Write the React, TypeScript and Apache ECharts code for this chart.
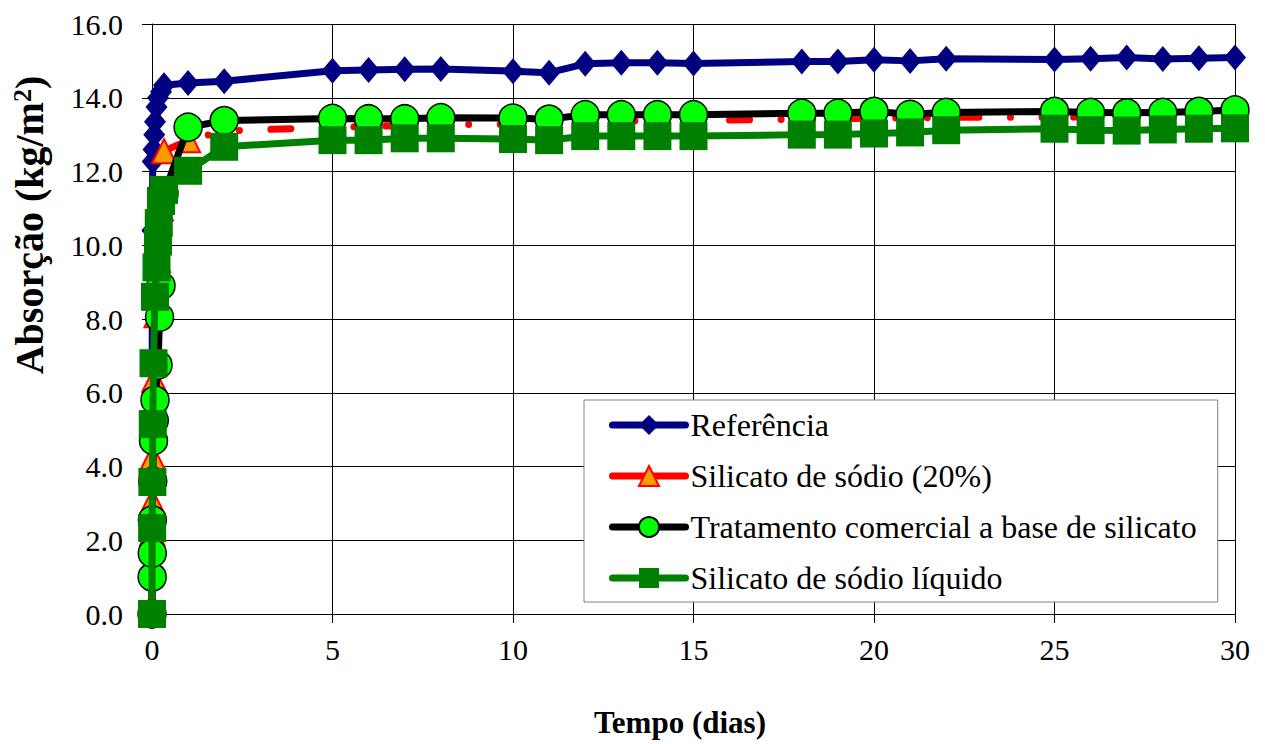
import React, { useEffect, useRef } from "react";
import * as echarts from "echarts";

// Time (days) of each reading
const laterDays = [1, 2, 5, 6, 7, 8, 10, 11, 12, 13, 14, 15, 18, 19, 20, 21, 22, 25, 26, 27, 28, 29, 30];
const refEarlyDays = [0, 0.0035, 0.0069, 0.0104, 0.0208, 0.0417, 0.0625, 0.0833, 0.125, 0.1667, 0.25, 0.3333];
const redEarlyDays = [0, 0.0035, 0.0069, 0.0104, 0.0208, 0.0625, 0.125, 0.1667, 0.25, 0.3333];
const blackEarlyDays = [0, 0.0035, 0.0069, 0.0104, 0.0208, 0.0417, 0.0625, 0.0833, 0.1667, 0.2083, 0.25, 0.3333];
const greenEarlyDays = [0, 0.0035, 0.0104, 0.0208, 0.0417, 0.0833, 0.125, 0.1667, 0.1875, 0.25, 0.3333];

// Absorption (kg/m2)
const refEarly = [0, 5.8, 8.5, 10.4, 12.27, 12.6, 13.0, 13.35, 13.75, 14.0, 14.16, 14.34];
const refLater = [14.4, 14.45, 14.73, 14.75, 14.77, 14.78, 14.72, 14.68, 14.92, 14.95, 14.95, 14.93, 14.98, 14.98, 15.03, 15.0, 15.06, 15.04, 15.06, 15.09, 15.05, 15.07, 15.09];

const redEarly = [0, 1.4, 2.2, 3.05, 4.25, 6.35, 8.1, 9.6, 11.0, 12.55];
const redLater = [12.85, 13.1, 13.2, 13.22, 13.25, 13.27, 13.28, 13.28, 13.35, 13.37, 13.38, 13.38, 13.42, 13.43, 13.45, 13.45, 13.47, 13.47, 13.48, 13.48, 13.5, 13.5, 13.52];

const blackEarly = [0, 1.0, 1.65, 2.55, 3.6, 4.7, 5.25, 5.8, 6.75, 8.05, 8.9, 11.4];
const blackLater = [13.2, 13.38, 13.44, 13.43, 13.43, 13.46, 13.45, 13.42, 13.54, 13.54, 13.54, 13.54, 13.58, 13.58, 13.63, 13.55, 13.6, 13.63, 13.6, 13.59, 13.6, 13.63, 13.67];

const greenEarly = [0, 2.33, 3.58, 5.15, 6.8, 8.6, 9.4, 10.1, 10.6, 11.2, 11.5];
const greenLater = [12.02, 12.67, 12.85, 12.85, 12.9, 12.9, 12.88, 12.85, 12.96, 12.96, 12.96, 12.96, 13.0, 13.0, 13.03, 13.06, 13.12, 13.16, 13.12, 13.11, 13.14, 13.16, 13.17];

const seriesNames = [
  "Referência",
  "Silicato de sódio (20%)",
  "Tratamento comercial a base de silicato",
  "Silicato de sódio líquido",
];

const yTicks = [0, 2, 4, 6, 8, 10, 12, 14, 16];
const xTicks = [0, 5, 10, 15, 20, 25, 30];

const FONT = "Liberation Serif";

function pairs(days: number[], vals: number[]) {
  return days.map((d, i) => [d, vals[i]]);
}

export default function App() {
  const ref = useRef<HTMLDivElement>(null);
  useEffect(() => {
    if (!ref.current) return;
    const chart = echarts.init(ref.current, undefined, { renderer: "svg" });
    const option: any = {
      animation: false,
      backgroundColor: "#ffffff",
      textStyle: { fontFamily: FONT },
      grid: { left: 152, right: 30, top: 24, bottom: 130, containLabel: false },
      xAxis: {
        type: "value",
        min: xTicks[0],
        max: xTicks[xTicks.length - 1],
        interval: 5,
        axisLine: { show: true, onZero: false, lineStyle: { color: "#000", width: 1 } },
        axisTick: { show: true, inside: false, length: 9, lineStyle: { color: "#000" } },
        axisLabel: { fontSize: 30, fontFamily: FONT, color: "#000", margin: 20 },
        splitLine: { show: true, lineStyle: { color: "#000", width: 1 } },
      },
      yAxis: {
        type: "value",
        min: yTicks[0],
        max: yTicks[yTicks.length - 1],
        interval: 2,
        axisLine: { show: true, onZero: false, lineStyle: { color: "#000", width: 1 } },
        axisTick: { show: true, inside: false, length: 10, lineStyle: { color: "#000" } },
        axisLabel: {
          fontSize: 30,
          fontFamily: FONT,
          color: "#000",
          margin: 29,
          formatter: (v: number) => v.toFixed(1),
        },
        splitLine: { show: true, lineStyle: { color: "#000", width: 1 } },
      },
      legend: {
        orient: "vertical",
        left: 584,
        top: 400,
        padding: [9, 21, 8, 25],
        itemWidth: 73,
        itemHeight: 25,
        itemGap: 19,
        backgroundColor: "#ffffff",
        borderColor: "#808080",
        borderWidth: 1,
        textStyle: { fontSize: 32, fontFamily: FONT, color: "#000", lineHeight: 32 },
        lineStyle: { width: 7, type: "solid", cap: "round" },
        data: seriesNames,
      },
      graphic: [
        {
          type: "text",
          x: 29,
          y: 225,
          rotation: Math.PI / 2,
          style: {
            text: "Absorção (kg/m{sup|2})",
            fontSize: 40,
            fontWeight: "bold",
            fontFamily: FONT,
            fill: "#000",
            align: "center",
            verticalAlign: "middle",
            rich: {
              sup: { fontSize: 26, fontWeight: "bold", fontFamily: FONT, fill: "#000", verticalAlign: "top", lineHeight: 26, padding: [0, 0, 16, 0] },
            },
          },
        },
        {
          type: "text",
          x: 680,
          y: 722,
          style: {
            text: "Tempo (dias)",
            fontSize: 31,
            fontWeight: "bold",
            fontFamily: FONT,
            fill: "#000",
            align: "center",
            verticalAlign: "middle",
          },
        },
      ],
      series: [
        {
          name: seriesNames[0],
          type: "line",
          z: 2,
          clip: false,
          showAllSymbol: true,
          data: pairs(refEarlyDays.concat(laterDays), refEarly.concat(refLater)),
          symbol: "diamond",
          symbolSize: [22, 26],
          itemStyle: { color: "#000080" },
          lineStyle: { color: "#000080", width: 7, join: "round", cap: "round" },
        },
        {
          name: seriesNames[1],
          type: "line",
          z: 3,
          clip: false,
          showAllSymbol: true,
          data: pairs(redEarlyDays.concat(laterDays), redEarly.concat(redLater)),
          symbol: "triangle",
          symbolSize: [24, 24],
          itemStyle: { color: "#FF9900", borderColor: "#FF0000", borderWidth: 2 },
          lineStyle: { color: "#FF0000", width: 7, type: [20, 31.5, 0.1, 31.5, 0.1, 31.5], cap: "round", join: "round" },
        },
        {
          name: seriesNames[2],
          type: "line",
          z: 4,
          clip: false,
          showAllSymbol: true,
          data: pairs(blackEarlyDays.concat(laterDays), blackEarly.concat(blackLater)),
          symbol: "circle",
          symbolSize: 28,
          itemStyle: { color: "#00FF00", borderColor: "#000000", borderWidth: 1.5 },
          lineStyle: { color: "#000000", width: 7, join: "round", cap: "round" },
        },
        {
          name: seriesNames[3],
          type: "line",
          z: 5,
          clip: false,
          showAllSymbol: true,
          data: pairs(greenEarlyDays.concat(laterDays), greenEarly.concat(greenLater)),
          symbol: "rect",
          symbolSize: 28,
          itemStyle: { color: "#008000" },
          lineStyle: { color: "#008000", width: 7, join: "round", cap: "round" },
        },
      ],
    };
    chart.setOption(option);
    return () => chart.dispose();
  }, []);
  return (
    <div
      ref={ref}
      style={{ position: "fixed", left: 0, top: 0, width: 1265, height: 744, background: "#fff" }}
    />
  );
}
